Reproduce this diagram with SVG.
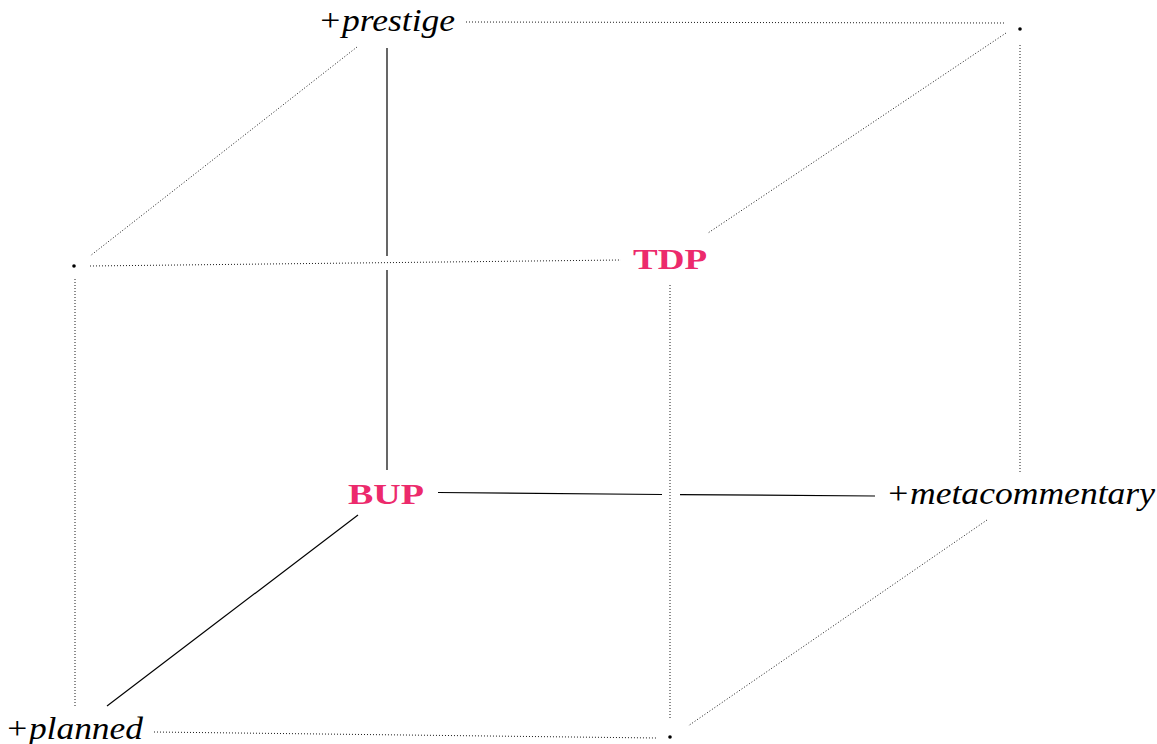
<svg xmlns="http://www.w3.org/2000/svg" width="1157" height="744" viewBox="0 0 1157 744">
<style>
.lab{font-family:"Liberation Serif","Times New Roman",serif;font-style:italic;font-size:31px;fill:#000}
.key{font-family:"Liberation Serif","Times New Roman",serif;font-weight:bold;font-size:30px;fill:#ec2a6c}
.dot{stroke:#000;stroke-width:0.9;stroke-dasharray:1 2;fill:none}
.sol{stroke:#000;stroke-width:1.2;fill:none}
</style>
<rect width="1157" height="744" fill="#fff"/>
<g id="connectors">
<line class="dot" x1="466" y1="22" x2="1004" y2="23"/>
<line class="dot" x1="357" y1="47" x2="90" y2="256"/>
<line class="sol" x1="387" y1="48" x2="387" y2="256"/>
<line class="sol" x1="387" y1="270" x2="387" y2="470"/>
<line class="dot" x1="90" y1="266" x2="621" y2="260"/>
<line class="dot" x1="1006" y1="33" x2="708" y2="233"/>
<line class="dot" x1="1020" y1="45" x2="1020" y2="472"/>
<line class="dot" x1="75" y1="279" x2="75" y2="706"/>
<line class="dot" x1="670" y1="285" x2="670" y2="720"/>
<line class="sol" x1="438" y1="492.5" x2="662" y2="494.5"/>
<line class="sol" x1="680" y1="494.6" x2="875" y2="496"/>
<line class="sol" x1="358" y1="515" x2="107" y2="706"/>
<line class="dot" x1="154" y1="732" x2="656" y2="738"/>
<line class="dot" x1="987" y1="520" x2="688" y2="726"/>
</g>
<g id="prestige"><text class="lab" x="318" y="31" textLength="137" lengthAdjust="spacingAndGlyphs">+prestige</text></g>
<g id="topright"><circle cx="1020" cy="29" r="1.8" fill="#000"/></g>
<g id="leftdot"><circle cx="74" cy="266" r="1.8" fill="#000"/></g>
<g id="TDP"><text class="key" x="633" y="269" textLength="74" lengthAdjust="spacingAndGlyphs">TDP</text></g>
<g id="BUP"><text class="key" x="348" y="504" textLength="76" lengthAdjust="spacingAndGlyphs">BUP</text></g>
<g id="metacommentary"><text class="lab" x="886" y="504" textLength="269" lengthAdjust="spacingAndGlyphs">+metacommentary</text></g>
<g id="planned"><text class="lab" x="5" y="739" textLength="138" lengthAdjust="spacingAndGlyphs">+planned</text></g>
<g id="bottomdot"><circle cx="670" cy="737" r="1.8" fill="#000"/></g>
</svg>
